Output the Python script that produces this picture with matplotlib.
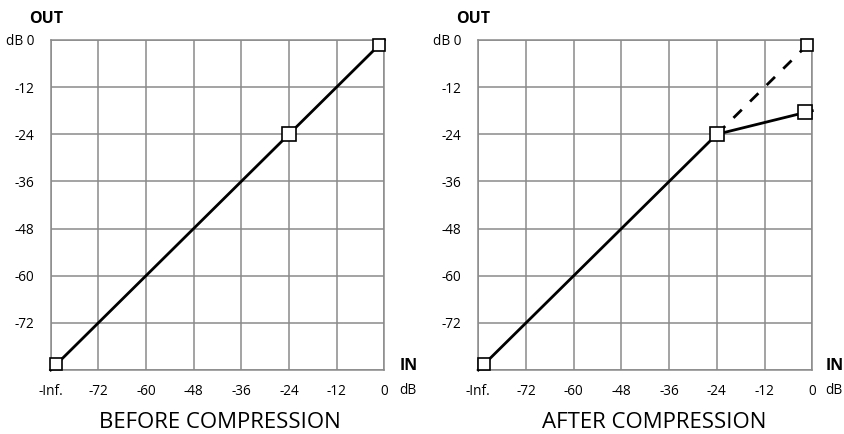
import matplotlib
matplotlib.use("Agg")
import matplotlib.pyplot as plt
from matplotlib.transforms import offset_copy

plt.rcParams['font.family'] = ['Open Sans', 'DejaVu Sans']

# valores (dB)
ticks_db = [-84, -72, -60, -48, -36, -24, -12, 0]
x_labels = ['-Inf.', '-72', '-60', '-48', '-36', '-24', '-12', '0']
y_labels = ['', '-72', '-60', '-48', '-36', '-24', '-12', 'dB 0']

in_db = [-84, -24, 0]
out_before = [-84, -24, 0]
out_after = [-84, -24, -18]
ref_in = [-24, 0]
ref_out = [-24, 0]

titles = ['BEFORE COMPRESSION', 'AFTER COMPRESSION']
title_x = [220, 654]

GRID = '#8a8a8a'
W, H = 845, 434

fig = plt.figure(figsize=(8.45, 4.34), dpi=100)
ax1 = fig.add_axes([50.7 / W, 64 / H, 333.5 / W, 330 / H])
ax2 = fig.add_axes([478.3 / W, 64 / H, 334 / W, 330 / H])


def style_axes(ax, in_gap):
    ax.set_xlim(-84, 0)
    ax.set_ylim(-84, 0)
    ax.set_xticks(ticks_db)
    ax.set_xticklabels(x_labels)
    ax.set_yticks(ticks_db)
    ax.set_yticklabels(y_labels)
    ax.tick_params(axis='x', length=0, pad=10, labelsize=9.8, colors='black')
    ax.tick_params(axis='y', length=0, pad=12, labelsize=9.8, colors='black')
    ax.grid(True, color=GRID, lw=1.1)
    ax.set_axisbelow(True)
    for s in ax.spines.values():
        s.set_color(GRID)
        s.set_linewidth(1.1)
    # etiquetas de ejes
    ax.text(0, 1, 'OUT', transform=offset_copy(ax.transAxes, fig, x=-22, y=17, units='dots'),
            fontsize=11.5, fontweight='bold', ha='left', va='baseline')
    ax.text(1, 0, 'IN', transform=offset_copy(ax.transAxes, fig, x=in_gap, y=0, units='dots'),
            fontsize=11.5, fontweight='bold', ha='left', va='baseline')
    ax.text(1, 0, 'dB', transform=offset_copy(ax.transAxes, fig, x=in_gap, y=-21, units='dots'),
            fontsize=9.8, ha='left', va='center')


def square(ax, x, y, size, dx=0, dy=0):
    tr = offset_copy(ax.transData, fig, x=dx, y=dy, units='dots')
    ax.plot([x], [y], marker='s', ms=size, mfc='white', mec='black', mew=1.2,
            ls='none', transform=tr, clip_on=False, zorder=5)


style_axes(ax1, 15)
style_axes(ax2, 13)

# Antes de la compresion
ax1.plot(in_db, out_before, color='black', lw=2.0, zorder=3, clip_on=False)
square(ax1, in_db[0], out_before[0], 8, 5.5, 5.5)
square(ax1, in_db[1], out_before[1], 10)
square(ax1, in_db[2], out_before[2], 8, -5.5, -5.5)

# Despues de la compresion
ax2.plot(ref_in, ref_out, color='black', lw=2.0, dashes=(4.2, 4.2), zorder=3, clip_on=False)
ax2.plot(in_db, out_after, color='black', lw=2.0, zorder=3, clip_on=False)
square(ax2, in_db[0], out_after[0], 8, 5.5, 5.5)
square(ax2, in_db[1], out_after[1], 10)
square(ax2, ref_in[1], ref_out[1], 8, -5.5, -5.5)
square(ax2, in_db[2], out_after[2], 10, -7, -1.7)

for t, x in zip(titles, title_x):
    fig.text(x / W, 1 - 423 / H, t, fontsize=16, ha='center', va='center')

fig.savefig('out.png', dpi=100)
